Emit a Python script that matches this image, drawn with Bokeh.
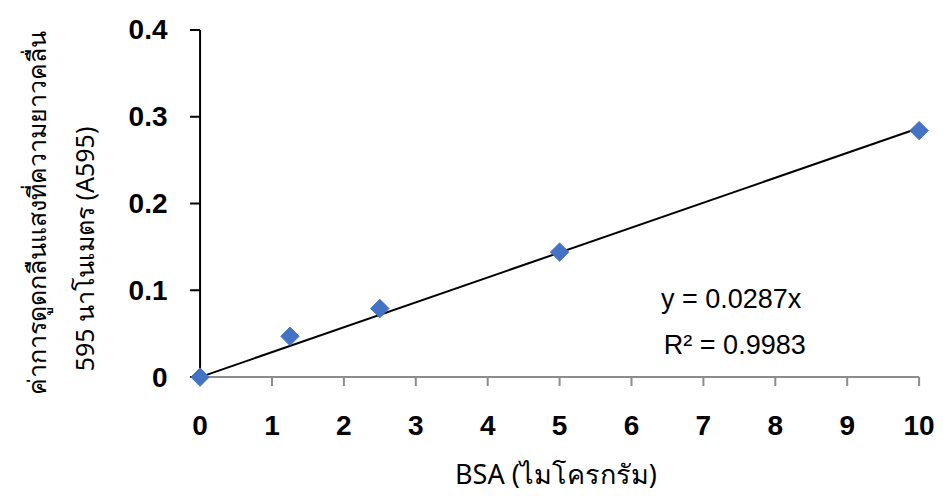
from bokeh.plotting import figure
from bokeh.models import Range1d, FixedTicker, Label, LinearAxis
from bokeh.embed import file_html
from bokeh.resources import INLINE

# data
bsa_ug = [0, 1.25, 2.5, 5, 10]
a595 = [0, 0.047, 0.079, 0.144, 0.284]
slope = 0.0287
trend_x = [0, 10]
x_ticks = [0, 1, 2, 3, 4, 5, 6, 7, 8, 9, 10]
y_ticks = [0, 0.1, 0.2, 0.3, 0.4]
y_tick_labels = {0: "0", 0.1: "0.1", 0.2: "0.2", 0.3: "0.3", 0.4: "0.4"}
eq_text = "y = 0.0287x"
r2_text = "R² = 0.9983"
x_title = "BSA (ไมโครกรัม)"
y_title_1 = "ค่าการดูดกลืนแสงที่ความยาวคลื่น"
y_title_2 = "595 นาโนเมตร (A595)"

# layout / style
W, H = 935, 496
BL, BR, BT, BB = 178, 2, 19, 109
X0, X1 = -0.3, 10.2
Y0, Y1 = -0.012, 0.412
px_x = (W - BL - BR) / (X1 - X0)
px_y = (H - BT - BB) / (Y1 - Y0)
XTICK_PX, YTICK_PX = 9, 10

p = figure(width=W, height=H, output_backend="svg", toolbar_location=None,
           x_range=Range1d(X0, X1), y_range=Range1d(Y0, Y1),
           min_border_left=BL, min_border_right=BR, min_border_top=BT, min_border_bottom=BB)
p.outline_line_color = None
p.grid.visible = False
p.background_fill_color = "white"
p.border_fill_color = "white"

# axis lines and tick marks at the data origin
axis_gray = "#8c8c8c"
p.segment(x0=[x_ticks[0]], y0=[0], x1=[x_ticks[-1]], y1=[0], line_color=axis_gray, line_width=2)
p.segment(x0=x_ticks, y0=[0] * len(x_ticks), x1=x_ticks, y1=[-XTICK_PX / px_y] * len(x_ticks),
          line_color=axis_gray, line_width=2)
p.segment(x0=[0] * len(y_ticks), y0=y_ticks, x1=[-YTICK_PX / px_x] * len(y_ticks), y1=y_ticks,
          line_color="black", line_width=2)
p.segment(x0=[0], y0=[y_ticks[0]], x1=[0], y1=[y_ticks[-1]], line_color="black", line_width=2)

# trendline
trend_y = [slope * v for v in trend_x]
p.line(trend_x, trend_y, line_color="black", line_width=2)
# markers
p.scatter(bsa_ug, a595, marker="square", angle=0.785398, size=13,
          fill_color="#4472C4", line_color="#4472C4")

tick_font = "Liberation Sans"
title_font = "Noto Sans"
NB = "\u00a0"

# ---- x axis: labels only ----
xa = p.xaxis[0]
xa.ticker = FixedTicker(ticks=x_ticks)
xa.axis_line_color = None
xa.major_tick_line_color = None
xa.minor_tick_line_color = None
xa.major_tick_in = 0
xa.major_tick_out = 0
xa.major_label_text_font = tick_font
xa.major_label_text_font_style = "bold"
xa.major_label_text_font_size = "28px"
xa.major_label_text_color = "black"
xa.major_label_standoff = 28
xa.axis_label = x_title
xa.axis_label_text_font = title_font
xa.axis_label_text_font_style = "normal"
xa.axis_label_text_font_size = "27px"
xa.axis_label_text_color = "black"
xa.axis_label_standoff = 17

# ---- y axis: labels only ----
ya = p.yaxis[0]
ya.ticker = FixedTicker(ticks=y_ticks)
ya.major_label_overrides = y_tick_labels
ya.axis_line_color = None
ya.major_tick_line_color = None
ya.minor_tick_line_color = None
ya.major_tick_in = 0
ya.major_tick_out = 0
ya.major_label_text_font = tick_font
ya.major_label_text_font_style = "bold"
ya.major_label_text_font_size = "28px"
ya.major_label_text_color = "black"
ya.major_label_standoff = 11
ya.axis_label = y_title_2 + NB * 14
ya.axis_label_text_font = title_font
ya.axis_label_text_font_style = "normal"
ya.axis_label_text_font_size = "25px"
ya.axis_label_text_color = "black"
ya.axis_label_standoff = 25

# outer y title line
yt = LinearAxis(ticker=FixedTicker(ticks=[]), axis_label=y_title_1 + NB * 3)
yt.axis_line_color = None
yt.major_tick_line_color = None
yt.minor_tick_line_color = None
yt.major_tick_in = 0
yt.major_tick_out = 0
yt.major_label_standoff = 0
yt.axis_label_text_font = title_font
yt.axis_label_text_font_style = "normal"
yt.axis_label_text_font_size = "25px"
yt.axis_label_text_color = "black"
yt.axis_label_standoff = 11
p.add_layout(yt, "left")

# equation labels
p.add_layout(Label(x=6.41, y=0.09, text=eq_text, text_font="Liberation Sans",
                   text_font_size="27px", text_color="black", text_baseline="alphabetic"))
p.add_layout(Label(x=6.45, y=0.0368, text=r2_text, text_font="Liberation Sans",
                   text_font_size="27px", text_color="black", text_baseline="alphabetic"))

open("out.html", "w").write(file_html(p, INLINE))
